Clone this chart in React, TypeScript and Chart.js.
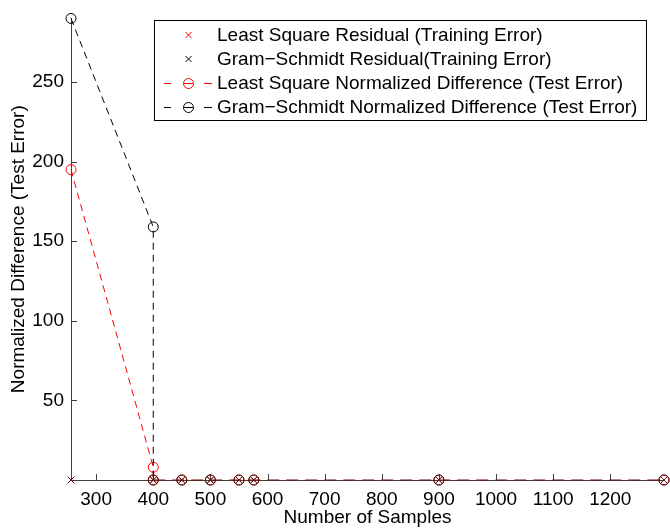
import React, { useEffect, useRef } from 'react';
import { Chart, registerables } from 'chart.js';

Chart.register(...registerables);

// ---- data ----
const trainSamples = [256, 400, 450, 500, 550, 576, 900, 1294];
const lsResidual = [0, 0, 0, 0, 0, 0, 0, 0];
const gsResidual = [0, 0, 0, 0, 0, 0, 0, 0];
const testSamples = [256, 400, 400, 450, 500, 550, 576, 900, 1294];
const lsTestError = [195, 8, 0, 0, 0, 0, 0, 0, 0];
const gsTestError = [290, 159, 0, 0, 0, 0, 0, 0, 0];
const xTicks = [300, 400, 500, 600, 700, 800, 900, 1000, 1100, 1200];
const yTicks = [50, 100, 150, 200, 250];
const legendLabels = [
  'Least Square Residual (Training Error)',
  'Gram\u2212Schmidt Residual(Training Error)',
  'Least Square Normalized Difference (Test Error)',
  'Gram\u2212Schmidt Normalized Difference (Test Error)',
];

const FONT = "'Liberation Sans', Arial, Helvetica, sans-serif";
const RED = '#ff0000';
const BLACK = '#000000';
const MAROON = '#6e0c0c';
const AXIS = '#404040';

const toPoints = (xs: number[], ys: number[]) => xs.map((x, i) => ({ x, y: ys[i] }));

const atZero = (ctx: any) => ctx.raw && ctx.raw.y === 0;
const bottomSeg = (ctx: any) => ctx.p0.parsed.y === 0 && ctx.p1.parsed.y === 0;

const inwardTicks = {
  id: 'inwardTicks',
  beforeDatasetsDraw(chart: any) {
    const { ctx, chartArea } = chart;
    const xs = chart.scales.x;
    const ys = chart.scales.y;
    ctx.save();
    ctx.strokeStyle = AXIS;
    ctx.lineWidth = 1;
    ctx.beginPath();
    xTicks.forEach((v) => {
      const px = Math.round(xs.getPixelForValue(v)) + 0.5;
      ctx.moveTo(px, chartArea.bottom);
      ctx.lineTo(px, chartArea.bottom - 6);
    });
    yTicks.forEach((v) => {
      const py = Math.round(ys.getPixelForValue(v)) + 0.5;
      ctx.moveTo(chartArea.left, py);
      ctx.lineTo(chartArea.left + 6, py);
    });
    ctx.stroke();
    ctx.restore();
  },
};

const customLegend = {
  id: 'customLegend',
  afterDraw(chart: any) {
    const { ctx } = chart;
    const left = 154.5, top = 20.5, right = 646.5, bottom = 120.5;
    ctx.save();
    ctx.fillStyle = '#ffffff';
    ctx.fillRect(left, top, right - left, bottom - top);
    ctx.strokeStyle = BLACK;
    ctx.lineWidth = 1;
    ctx.strokeRect(left, top, right - left, bottom - top);
    const rows = [35, 59, 83, 107];
    const mx = 188.5;
    const colors = [RED, BLACK, RED, BLACK];
    rows.forEach((ry, i) => {
      const c = colors[i];
      ctx.strokeStyle = c;
      ctx.lineWidth = 1;
      if (i < 2) {
        const d = 3;
        ctx.beginPath();
        ctx.moveTo(mx - d, ry - d);
        ctx.lineTo(mx + d, ry + d);
        ctx.moveTo(mx + d, ry - d);
        ctx.lineTo(mx - d, ry + d);
        ctx.stroke();
      } else {
        ctx.beginPath();
        ctx.moveTo(164, ry + 0.5);
        ctx.lineTo(171, ry + 0.5);
        ctx.moveTo(184, ry + 0.5);
        ctx.lineTo(193, ry + 0.5);
        ctx.moveTo(204, ry + 0.5);
        ctx.lineTo(212, ry + 0.5);
        ctx.stroke();
        ctx.beginPath();
        ctx.arc(mx, ry + 0.5, 5, 0, Math.PI * 2);
        ctx.stroke();
      }
      ctx.fillStyle = BLACK;
      ctx.font = `19px ${FONT}`;
      ctx.textBaseline = 'middle';
      ctx.textAlign = 'left';
      ctx.fillText(legendLabels[i], 217, ry + 1);
    });
    ctx.restore();
  },
};

export default function App() {
  const ref = useRef<HTMLCanvasElement>(null);

  useEffect(() => {
    if (!ref.current) return;
    const chart = new Chart(ref.current, {
      type: 'scatter',
      data: {
        datasets: [
          {
            label: legendLabels[0],
            data: toPoints(trainSamples, lsResidual),
            showLine: false,
            pointStyle: 'crossRot',
            radius: 4.5,
            pointBorderWidth: 1,
            pointBorderColor: (ctx: any) => (atZero(ctx) ? MAROON : RED),
            pointBackgroundColor: 'transparent',
            clip: false,
            order: 4,
          } as any,
          {
            label: legendLabels[1],
            data: toPoints(trainSamples, gsResidual),
            showLine: false,
            pointStyle: 'crossRot',
            radius: 4.5,
            pointBorderWidth: 1,
            pointBorderColor: (ctx: any) => (atZero(ctx) ? MAROON : BLACK),
            pointBackgroundColor: 'transparent',
            clip: false,
            order: 3,
          },
          {
            label: legendLabels[2],
            data: toPoints(testSamples, lsTestError),
            showLine: true,
            borderColor: RED,
            borderWidth: 1,
            borderDash: [7, 5],
            pointStyle: 'circle',
            radius: 5,
            pointBorderWidth: 1,
            pointBorderColor: (ctx: any) => (atZero(ctx) ? MAROON : RED),
            pointBackgroundColor: 'transparent',
            segment: {
              borderColor: (ctx: any) => (bottomSeg(ctx) ? MAROON : undefined),
              borderDash: (ctx: any) => (bottomSeg(ctx) ? [12, 7] : undefined),
            },
            clip: false,
            order: 2,
          },
          {
            label: legendLabels[3],
            data: toPoints(testSamples, gsTestError),
            showLine: true,
            borderColor: BLACK,
            borderWidth: 1,
            borderDash: [7, 5],
            pointStyle: 'circle',
            radius: 5,
            pointBorderWidth: 1,
            pointBorderColor: (ctx: any) => (atZero(ctx) ? MAROON : BLACK),
            pointBackgroundColor: 'transparent',
            segment: {
              borderColor: (ctx: any) => (bottomSeg(ctx) ? 'rgba(0,0,0,0)' : undefined),
            },
            clip: false,
            order: 1,
          },
        ],
      },
      options: {
        animation: false,
        responsive: false,
        devicePixelRatio: 1,
        layout: { padding: { top: 12, right: 6, left: 0, bottom: 0 } },
        plugins: {
          legend: { display: false },
          tooltip: { enabled: false },
        },
        scales: {
          x: {
            type: 'linear',
            min: 256,
            max: 1294,
            afterBuildTicks: (s: any) => {
              s.ticks = xTicks.map((v) => ({ value: v }));
            },
            afterFit: (s: any) => {
              s.height = 49;
            },
            ticks: {
              color: BLACK,
              font: { family: FONT, size: 19 },
              padding: 8,
              maxRotation: 0,
              autoSkip: false,
              callback: (v: any) => String(v),
            },
            grid: { drawOnChartArea: false, drawTicks: false },
            border: { display: true, color: AXIS, width: 1 },
            title: {
              display: true,
              text: 'Number of Samples',
              color: BLACK,
              font: { family: FONT, size: 19 },
              padding: { top: 0, bottom: 0 },
            },
          },
          y: {
            type: 'linear',
            min: 0,
            max: 290,
            afterBuildTicks: (s: any) => {
              s.ticks = yTicks.map((v) => ({ value: v }));
            },
            afterFit: (s: any) => {
              s.width = 71;
            },
            ticks: {
              color: BLACK,
              font: { family: FONT, size: 19 },
              padding: 7,
              autoSkip: false,
              callback: (v: any) => String(v),
            },
            grid: { drawOnChartArea: false, drawTicks: false },
            border: { display: true, color: AXIS, width: 1 },
            title: {
              display: true,
              text: 'Normalized Difference (Test Error)',
              color: BLACK,
              font: { family: FONT, size: 19 },
              padding: { top: 7, bottom: 0 },
            },
          },
        },
      },
      plugins: [inwardTicks, customLegend],
    });
    return () => chart.destroy();
  }, []);

  return (
    <div style={{ position: 'fixed', left: 0, top: 0, width: 670, height: 529, background: '#fff' }}>
      <canvas ref={ref} width={670} height={529} style={{ display: 'block' }} />
    </div>
  );
}
